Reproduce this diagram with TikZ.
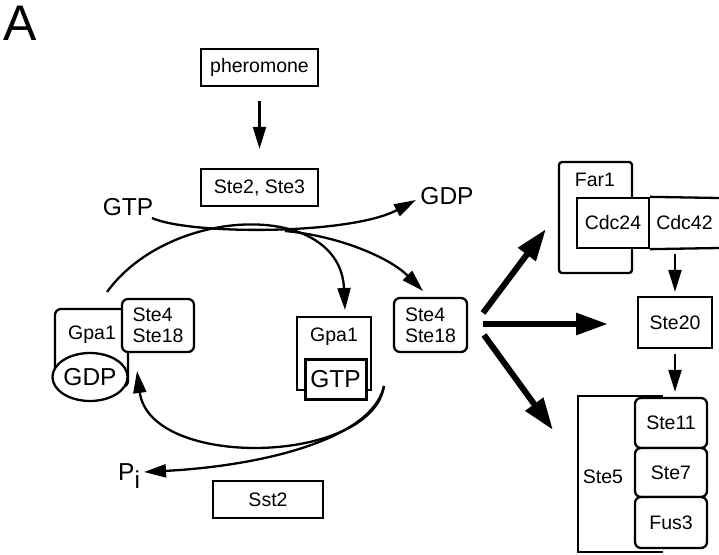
\documentclass[tikz,border=0pt]{standalone}
\usepackage{fontspec}
\setmainfont{Liberation Sans}
\usetikzlibrary{arrows.meta,shapes.geometric}
\begin{document}
\begin{tikzpicture}[x=1pt,y=-1pt,
 lw/.style={line width=2.3pt},
 sm/.style={font=\fontsize{19.5}{21}\selectfont},
 big/.style={font=\fontsize{24.5}{26}\selectfont,inner sep=0pt},
 box/.style={draw,lw,fill=white,inner sep=0pt,sm},
 rbox/.style={box,rounded corners=6pt},
 thinarr/.style={lw,-{Triangle[length=22pt,width=13pt]}},
 thickarr/.style={line width=6pt,-{Triangle[length=32pt,width=21pt]}}]
\useasboundingbox (0,0) rectangle (719,554);

\node[font=\fontsize{50}{52}\selectfont,inner sep=0pt] (A) at (20,23) {A};

% receptor part
\node[box,minimum width=117pt,minimum height=37pt] (pher) at (259.5,67.5) {pheromone};
\node[box,minimum width=117pt,minimum height=37pt] (ste23) at (259.5,187.5) {Ste2, Ste3};
\draw[thinarr,shorten <=14pt,shorten >=19pt] (pher) -- (ste23);

\node[big] (gtp) at (128,207.5) {GTP};
\node[big] (gdp) at (447,196) {GDP};
\coordinate (gtpend) at (152,218);
\coordinate (gdptip) at (416,200);
\draw[thinarr] (gtpend) .. controls (190,235) and (350,235) .. (gdptip);

% left complex
\node[rbox,minimum width=73pt,minimum height=78pt] (gpaL) at (91.5,348) {};
\node[sm,inner sep=0pt] (gpaLt) at (92,335) {Gpa1};
\node[ellipse,draw,lw,fill=white,minimum width=60pt,minimum height=48pt,big] (gdpL) at (90,377) {GDP};
\node[rbox,minimum width=72pt,minimum height=53pt,align=left] (steL) at (158,325.5) {Ste4\\Ste18};

% right complex
\node[box,minimum width=74pt,minimum height=73pt] (gpaR) at (334,353.5) {};
\node[sm,inner sep=0pt] (gpaRt) at (334,337) {Gpa1};
\node[box,line width=3pt,minimum width=61pt,minimum height=40pt,big] (gtpR) at (335.5,379) {GTP};
\node[rbox,minimum width=73pt,minimum height=54pt,align=left] (steR) at (430.5,325) {Ste4\\Ste18};

% activation arcs
\coordinate (arcL) at (107,292);
\coordinate (tipGpa) at (345,310);
\coordinate (splitR) at (285,231);
\coordinate (tipSte) at (423,291);
\draw[thinarr] (arcL) .. controls (170,205) and (340,200) .. (tipGpa);
\draw[thinarr] (splitR) .. controls (340,236) and (390,258) .. (tipSte);

% return arcs
\coordinate (retS) at (384,386);
\coordinate (retT) at (137,371);
\coordinate (piT) at (144,472);
\draw[thinarr] (retS) .. controls (372,465) and (150,470) .. (retT);
\draw[thinarr] (retS) .. controls (372,440) and (260,466) .. (piT);
\node[big,anchor=base west] (pi) at (118,480) {P\raisebox{-8pt}{i}};
\node[box,minimum width=110pt,minimum height=37pt] (sst2) at (268,499.5) {Sst2};

% right side
\node[draw,lw,rounded corners=3pt,minimum width=73pt,minimum height=111pt] (far1) at (595.5,217.5) {};
\node[sm,inner sep=0pt] (far1t) at (595,180) {Far1};
\node[box,minimum width=72pt,minimum height=50pt] (cdc24) at (613,223) {Cdc24};
\node[sm,inner sep=0pt] (cdc42) at (684.5,223) {Cdc42};
\draw[lw] (cdc24.north east) -- (719,198);
\draw[lw] (cdc24.south east) -- (719,248);

\node[box,minimum width=74pt,minimum height=51pt] (ste20) at (675,322.5) {Ste20};

\draw[lw] (663,396) -- (578,396) -- (578,552) -- (663,552);
\node[sm,inner sep=0pt] (ste5) at (603,477) {Ste5};
\node[rbox,minimum width=72pt,minimum height=50pt] (ste11) at (671,423) {Ste11};
\node[rbox,minimum width=72pt,minimum height=49pt] (ste7) at (671,472.5) {Ste7};
\node[rbox,minimum width=72pt,minimum height=51pt] (fus3) at (671,522.5) {Fus3};

\draw[thinarr,shorten <=5pt,shorten >=4pt] (ste20.north |- cdc24.south) -- (ste20.north);
\draw[thinarr,shorten <=5pt,shorten >=5pt] (ste20.south) -- (ste20.south |- ste11.north);

\coordinate (t1) at (546,229);
\coordinate (t2) at (608,324);
\coordinate (t3) at (553,430);
\draw[thickarr] (483,313) -- (t1);
\draw[thickarr] (483,324) -- (t2);
\draw[thickarr] (484,335) -- (t3);
\end{tikzpicture}
\end{document}
